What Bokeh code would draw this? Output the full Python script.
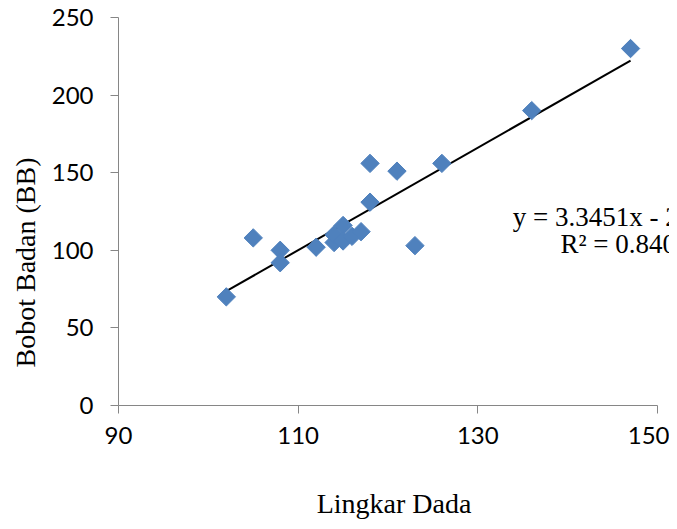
import numpy as np
from bokeh.plotting import figure
from bokeh.models import Range1d, FixedTicker, Label, Title
from bokeh.embed import file_html
from bokeh.resources import INLINE

# data (Lingkar Dada vs Bobot Badan)
lingkar_dada = [102, 105, 108, 108, 112, 114, 114, 115, 115, 116, 117, 118, 118, 121, 123, 126, 136, 147]
bobot_badan = [70, 108, 100, 92, 102, 105, 110, 116, 106, 109, 112, 131, 156, 151, 103, 156, 190, 230]
x_ticks = [90, 110, 130, 150]
y_ticks = [0, 50, 100, 150, 200, 250]
eq_text = "y = 3.3451x - 267.6"
r2_text = "R² = 0.8408"

W, H = 669, 521
FRAME_L, FRAME_T, FRAME_B = 118, 17, 407
AXIS_R = 657  # pixel where x = 150 sits
x_end = 90 + (150 - 90) * (W - FRAME_L) / (AXIS_R - FRAME_L)

p = figure(width=W, height=H, output_backend="svg", toolbar_location=None,
           x_range=Range1d(90, x_end), y_range=Range1d(0, 250),
           min_border_left=FRAME_L, min_border_right=0, min_border_top=FRAME_T,
           min_border_bottom=H - FRAME_B)
p.outline_line_color = None
p.grid.visible = False

for ax in (p.xaxis[0], p.yaxis[0]):
    ax.axis_line_color = "#868686"
    ax.major_tick_line_color = "#868686"
    ax.major_tick_out = 8
    ax.major_tick_in = 0
    ax.minor_tick_line_color = None
    ax.major_label_text_font = "Lato"
    ax.major_label_text_font_size = "24px"
    ax.major_label_text_color = "black"
    ax.axis_label_text_font = "Liberation Serif"
    ax.axis_label_text_font_size = "28px"
    ax.axis_label_text_font_style = "normal"
    ax.axis_label_text_color = "black"

p.xaxis.ticker = FixedTicker(ticks=x_ticks)
p.yaxis.ticker = FixedTicker(ticks=y_ticks)
p.xaxis.bounds = (90, 150)
p.xaxis.axis_label = "Lingkar Dada"
p.xaxis.major_label_standoff = 13
p.yaxis.major_label_standoff = 17
p.xaxis.axis_label_standoff = 41

p.add_layout(Title(text="Bobot Badan (BB)", align="left", offset=38,
                   text_font="Liberation Serif", text_font_size="28px",
                   text_font_style="normal", text_color="black", standoff=15), "left")

# trendline via least squares
slope, intercept = np.polyfit(lingkar_dada, bobot_badan, 1)
xs = np.array([min(lingkar_dada), max(lingkar_dada)])
p.line(xs, slope * xs + intercept, line_color="black", line_width=2)

p.scatter(lingkar_dada, bobot_badan, marker="square", size=13, angle=np.pi / 4,
          fill_color="#4F81BD", line_color="#4F81BD")

p.add_layout(Label(x=133.9, y=121.2, text=eq_text, text_font="Liberation Serif",
                   text_font_size="27px", text_baseline="middle", text_color="black"))
p.add_layout(Label(x=139.2, y=103.8, text=r2_text, text_font="Liberation Serif",
                   text_font_size="27px", text_baseline="middle", text_color="black"))

open("out.html", "w").write(file_html(p, INLINE))
